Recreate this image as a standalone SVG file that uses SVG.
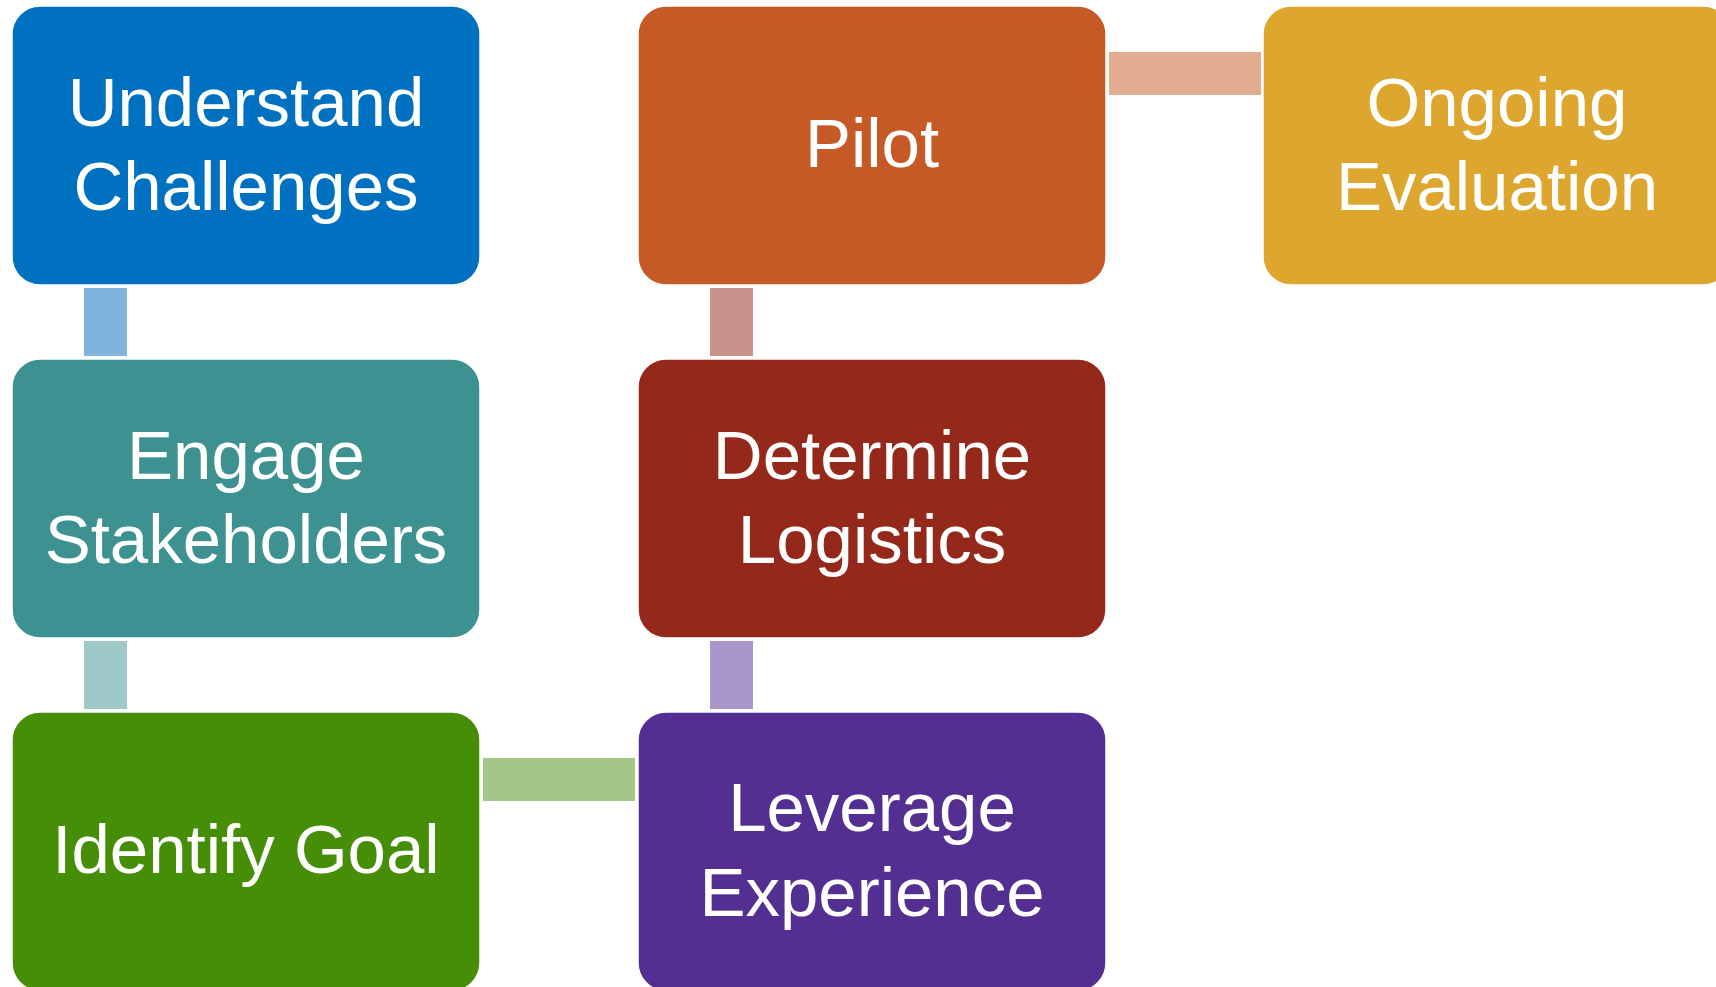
<svg xmlns="http://www.w3.org/2000/svg" width="1716" height="987" viewBox="0 0 1716 987">
<style>
.box{stroke:#ffffff;stroke-width:1.5}
.lbl{font-family:"Liberation Sans",Arial,sans-serif;font-size:69px;fill:#ffffff;text-anchor:middle}
</style>
<rect x="0" y="0" width="1716" height="987" fill="#ffffff"/>
<g id="connectors">
<rect x="84" y="288" width="43" height="68" fill="#7FB4DD"/>
<rect x="84" y="641" width="43" height="68" fill="#9FC9C8"/>
<rect x="483" y="758" width="152" height="43" fill="#A4C686"/>
<rect x="710" y="641" width="43" height="68" fill="#AA97C9"/>
<rect x="710" y="288" width="43" height="68" fill="#C9938B"/>
<rect x="1109" y="52" width="152" height="43" fill="#E1AC90"/>
</g>
<g id="understand">
<rect class="box" x="12" y="6" width="468" height="279" rx="28" fill="#0070C0"/>
<text class="lbl" x="246" y="126">Understand</text>
<text class="lbl" x="246" y="210">Challenges</text>
</g>
<g id="engage">
<rect class="box" x="12" y="359" width="468" height="279" rx="28" fill="#3E9191"/>
<text class="lbl" x="246" y="479">Engage</text>
<text class="lbl" x="246" y="563">Stakeholders</text>
</g>
<g id="identify">
<rect class="box" x="12" y="712" width="468" height="279" rx="28" fill="#468E07"/>
<text class="lbl" x="246" y="873">Identify Goal</text>
</g>
<g id="leverage">
<rect class="box" x="638" y="712" width="468" height="279" rx="28" fill="#532F91"/>
<text class="lbl" x="872" y="831">Leverage</text>
<text class="lbl" x="872" y="916">Experience</text>
</g>
<g id="determine">
<rect class="box" x="638" y="359" width="468" height="279" rx="28" fill="#94281A"/>
<text class="lbl" x="872" y="479">Determine</text>
<text class="lbl" x="872" y="563">Logistics</text>
</g>
<g id="pilot">
<rect class="box" x="638" y="6" width="468" height="279" rx="28" fill="#C65A26"/>
<text class="lbl" x="872" y="167">Pilot</text>
</g>
<g id="ongoing">
<rect class="box" x="1263" y="6" width="468" height="279" rx="28" fill="#DDA62E"/>
<text class="lbl" x="1497" y="126">Ongoing</text>
<text class="lbl" x="1497" y="210">Evaluation</text>
</g>
</svg>
